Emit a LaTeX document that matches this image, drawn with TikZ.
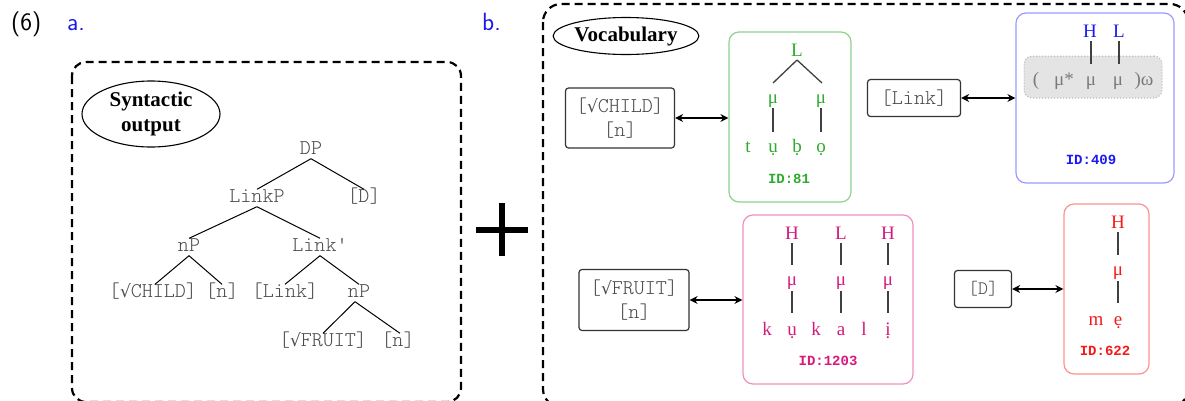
\documentclass[tikz,border=0pt]{standalone}
\usepackage{fontspec}
\setmainfont{Liberation Serif}
\newfontfamily\treemono{Latin Modern Mono Light}
\newfontfamily\idmono{Liberation Mono}
\newfontfamily\rootfont{DejaVu Sans}
\newcommand{\rt}{{\rootfont\fontsize{17}{20}\selectfont √}}
\usetikzlibrary{arrows.meta,calc,shapes.geometric}

\definecolor{treegray}{HTML}{4A4A4A}
\definecolor{boxdark}{HTML}{333333}
\definecolor{labelblue}{HTML}{1A1AE6}
\definecolor{gline}{HTML}{8FD18F}
\definecolor{gtext}{HTML}{2EAA2E}
\definecolor{bline}{HTML}{9A9AFF}
\definecolor{btext}{HTML}{1A1AF0}
\definecolor{pline}{HTML}{EE90BE}
\definecolor{ptext}{HTML}{D6197A}
\definecolor{rline}{HTML}{FF9090}
\definecolor{rtext}{HTML}{F51A1A}
\definecolor{graybg}{HTML}{E4E4E4}
\definecolor{graydot}{HTML}{B4B4B4}
\definecolor{graytext}{HTML}{7A7A7A}

\begin{document}
\begin{tikzpicture}[x=1pt,y=-1pt,
  hdr/.style={font=\sffamily\fontsize{25}{28}\selectfont, inner sep=0pt, anchor=base west},
  outerbox/.style={draw, line width=2.2pt, dash pattern=on 8pt off 5pt},
  ell/.style={draw, ellipse, line width=1.1pt, inner sep=0pt, align=center,
    font=\bfseries\fontsize{21}{25}\selectfont},
  tree/.style={font=\treemono\fontsize{21}{22}\selectfont, text=treegray,
    inner sep=1pt, text height=12pt, text depth=3pt},
  treeedge/.style={line width=1pt},
  vbox/.style={draw=boxdark, line width=1.2pt, rounded corners=3pt, align=center,
    font=\treemono\fontsize{21}{24}\selectfont, text=treegray, inner sep=0pt},
  pbox/.style={draw, line width=1.2pt, rounded corners=10pt, inner sep=0pt},
  phon/.style={font=\fontsize{19}{22}\selectfont, inner sep=0pt, anchor=base},
  assoc/.style={line width=1.3pt, draw=black!75},
  idlab/.style={font=\idmono\bfseries\fontsize{14}{16}\selectfont, inner sep=0pt},
  dblarrow/.style={line width=1.3pt,
    {Stealth[length=8pt,width=8pt]}-{Stealth[length=8pt,width=8pt]}}]

\useasboundingbox (0,0) rectangle (1185,400);
\clip (0,0) rectangle (1185,400);

% headings
\node[hdr] (num) at (11,30) {(6)};
\node[hdr, text=labelblue] (la) at (67,30) {a.};
\node[hdr, text=labelblue] (lb) at (482,30) {b.};

% dashed frames
\draw[outerbox, rounded corners=14pt] (72,62) rectangle (461,402);
\draw[outerbox, rounded corners=18pt] (543,4) rectangle (1188,407);

% plus sign
\draw[line width=6pt] (476,230) -- (528,230);
\draw[line width=6pt] (502,203) -- (502,256);

% ---------- a. syntactic tree ----------
\node[ell, minimum width=138pt, minimum height=66pt] (synout) at (151,114) {Syntactic\\output};

\node[tree] (dp)     at (311,150) {DP};
\node[tree] (linkp)  at (257,198) {LinkP};
\node[tree] (dhead)  at (364,198) {[D]};
\node[tree] (np1)    at (189,247) {nP};
\node[tree] (linkb)  at (320,247) {Link'};
\node[tree] (child)  at (153,293) {[\rt CHILD]};
\node[tree] (n1)     at (222,293) {[n]};
\node[tree] (link)   at (285,293) {[Link]};
\node[tree] (np2)    at (359,293) {nP};
\node[tree] (fruit)  at (323,342) {[\rt FRUIT]};
\node[tree] (n2)     at (398,342) {[n]};

\draw[treeedge] (dp.south) -- (linkp.north);
\draw[treeedge] (dp.south) -- (dhead.north);
\draw[treeedge] (linkp.south) -- (np1.north);
\draw[treeedge] (linkp.south) -- (linkb.north);
\draw[treeedge] (np1.south) -- ($(child.north)+(2,0)$);
\draw[treeedge] (np1.south) -- (n1.north);
\draw[treeedge] (linkb.south) -- (link.north);
\draw[treeedge] (linkb.south) -- (np2.north);
\draw[treeedge] ($(np2.south)+(-4,0)$) -- (fruit.north);
\draw[treeedge] ($(np2.south)+(-4,0)$) -- ($(n2.north)+(2,0)$);

% ---------- b. vocabulary ----------
\node[ell, minimum width=143pt, minimum height=37pt] (vocab) at (626,36) {Vocabulary};

% exponents
\node[vbox, minimum width=109pt, minimum height=60pt] (childbox) at (620,118) {[\rt CHILD]\\{[n]}};
\node[vbox, minimum width=93pt, minimum height=37pt] (linkbox) at (914,98) {[Link]};
\node[vbox, minimum width=110pt, minimum height=61pt] (fruitbox) at (634,300) {[\rt FRUIT]\\{[n]}};
\node[vbox, minimum width=57pt, minimum height=37pt, font=\treemono\fontsize{19}{20}\selectfont] (dbox) at (983,289) {[D]};

% phonological forms: frames
\node[pbox, draw=gline, minimum width=122pt, minimum height=170pt] (gform) at (790,117) {};
\node[pbox, draw=bline, minimum width=158pt, minimum height=170pt] (bform) at (1095,98) {};
\node[pbox, draw=pline, minimum width=170pt, minimum height=169pt] (pform) at (828,299.5) {};
\node[pbox, draw=rline, minimum width=85pt, minimum height=170pt] (rform) at (1106.5,289) {};

% links between exponents and forms
\draw[dblarrow] (childbox.east) -- (childbox.east -| gform.west);
\draw[dblarrow] (linkbox.east) -- (linkbox.east -| bform.west);
\draw[dblarrow] (fruitbox.east) -- (fruitbox.east -| pform.west);
\draw[dblarrow] (dbox.east) -- (dbox.east -| rform.west);

% CHILD: t u b o
\begin{scope}[every node/.append style={text=gtext}]
\node[phon] (gL)  at (797,56) {L};
\node[phon] (gm1) at (773,103) {μ};
\node[phon] (gm2) at (821,103) {μ};
\node[phon] (gt)  at (748,152) {t};
\node[phon] (gu)  at (773,152) {ụ};
\node[phon] (gb)  at (797,152) {ḅ};
\node[phon] (go)  at (821,152) {ọ};
\node[idlab] (gid) at (789,179) {ID:81};
\end{scope}
\draw[assoc] ($(gL.base)+(0,4)$) -- ($(gm1.base)+(0,-20)$);
\draw[assoc] ($(gL.base)+(0,4)$) -- ($(gm2.base)+(1,-20)$);
\draw[assoc] ($(gm1.base)+(0,5)$) -- ($(gu.base)+(0,-20)$);
\draw[assoc] ($(gm2.base)+(0,5)$) -- ($(go.base)+(0,-20)$);

% LINK: tonal melody over the prosodic word
\node[fill=graybg, draw=graydot, dotted, line width=1pt, rounded corners=8pt,
      minimum width=138pt, minimum height=42pt, inner sep=0pt] (pword) at (1093,77) {};
\begin{scope}[every node/.append style={text=graytext}]
\node[phon] (bop)  at (1036,85) {(};
\node[phon] (bms)  at (1064,85) {μ*};
\node[phon] (bm1)  at (1091,85) {μ};
\node[phon] (bm2)  at (1118,85) {μ};
\node[phon] (bcl)  at (1144,85) {)ω};
\end{scope}
\node[phon, text=btext] (bH) at (1090,37) {H};
\node[phon, text=btext] (bL) at (1119,37) {L};
\draw[assoc] ($(bH.base)+(1,4)$) -- ($(bm1.base)+(0,-21)$);
\draw[assoc] ($(bL.base)+(0,4)$) -- ($(bm2.base)+(1,-21)$);
\node[idlab, text=btext] (bid) at (1091,160) {ID:409};

% FRUIT: k u k a l i
\begin{scope}[every node/.append style={text=ptext}]
\node[phon] (pH1) at (792,239) {H};
\node[phon] (pL)  at (841,239) {L};
\node[phon] (pH2) at (888,239) {H};
\node[phon] (pm1) at (792,285) {μ};
\node[phon] (pm2) at (841,285) {μ};
\node[phon] (pm3) at (888,285) {μ};
\node[phon] (pk1) at (767,335) {k};
\node[phon] (pu)  at (792,335) {ụ};
\node[phon] (pk2) at (816,335) {k};
\node[phon] (pa)  at (841,335) {a};
\node[phon] (pl)  at (864,335) {l};
\node[phon] (pi)  at (888,335) {ị};
\node[idlab] (pid) at (828,361) {ID:1203};
\end{scope}
\draw[assoc] ($(pH1.base)+(0,4)$) -- ($(pm1.base)+(0,-20)$);
\draw[assoc] ($(pL.base)+(0,4)$) -- ($(pm2.base)+(0,-20)$);
\draw[assoc] ($(pH2.base)+(0,4)$) -- ($(pm3.base)+(0,-20)$);
\draw[assoc] ($(pm1.base)+(0,6)$) -- ($(pu.base)+(0,-22)$);
\draw[assoc] ($(pm2.base)+(0,6)$) -- ($(pa.base)+(0,-22)$);
\draw[assoc] ($(pm3.base)+(0,6)$) -- ($(pi.base)+(0,-22)$);

% D: m e
\begin{scope}[every node/.append style={text=rtext}]
\node[phon] (rH) at (1118,228) {H};
\node[phon] (rm) at (1118,275) {μ};
\node[phon] (rmm) at (1096,325) {m};
\node[phon] (re) at (1118,325) {ẹ};
\node[idlab] (rid) at (1105,351) {ID:622};
\end{scope}
\draw[assoc] ($(rH.base)+(0,4)$) -- ($(rm.base)+(0,-20)$);
\draw[assoc] ($(rm.base)+(0,6)$) -- ($(re.base)+(0,-22)$);

\end{tikzpicture}
\end{document}
